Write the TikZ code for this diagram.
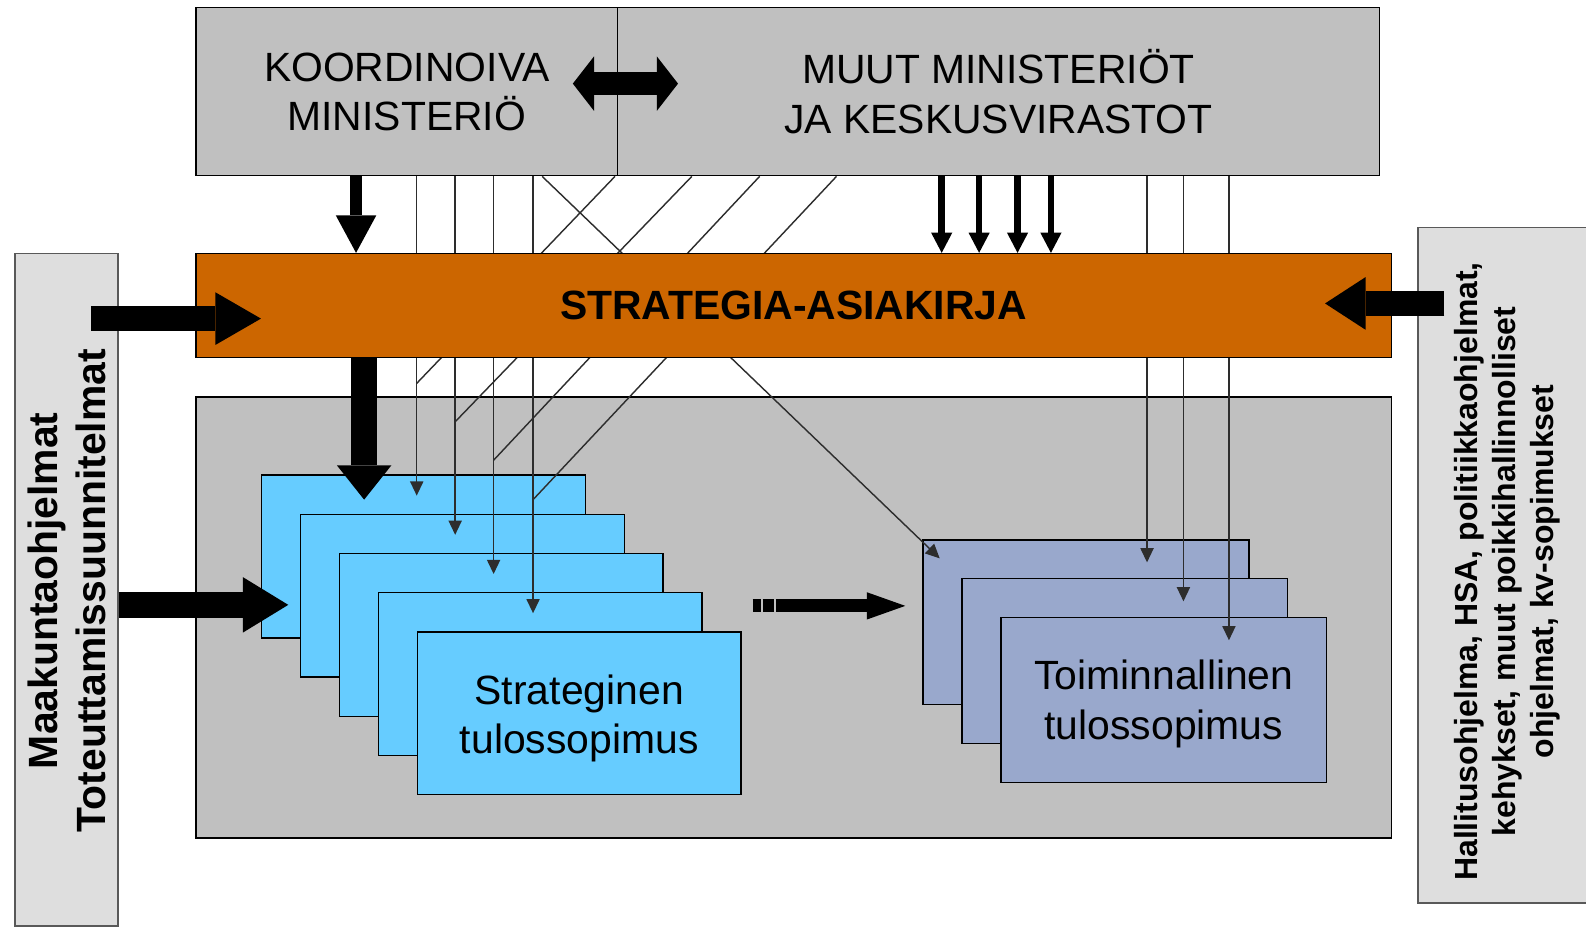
\documentclass[tikz,border=0pt]{standalone}
\usepackage{fontspec}
\setmainfont{Liberation Sans}
\usetikzlibrary{arrows.meta,calc,positioning}
\definecolor{harmaa}{RGB}{192,192,192}
\definecolor{vaalea}{RGB}{222,222,222}
\definecolor{oranssi}{RGB}{204,102,0}
\definecolor{sininen}{RGB}{102,204,255}
\definecolor{sinharmaa}{RGB}{153,168,204}
\definecolor{viiva}{RGB}{45,45,45}

\begin{document}
\begin{tikzpicture}[x=0.02cm,y=-0.02cm,
	teksti/.style={font=\fontsize{23}{27.9}\selectfont,align=center},
	laatikko/.style={draw=black,line width=0.8pt,anchor=north west,inner sep=0pt},
	sivu/.style={laatikko,draw=black!65,fill=vaalea},
	ohut/.style={draw=viiva,line width=0.8pt},
	ohutnuoli/.style={ohut,-{Triangle[width=0.26cm,length=0.28cm]}},
	keskinuoli/.style={line width=0.13cm,-{Triangle[width=0.42cm,length=0.4cm,line width=0pt]}},
	isonuoli/.style n args={3}{line width=#1,-{Triangle[width=#2,length=#3,line width=0pt]}},
	kaksoisnuoli/.style n args={3}{line width=#1,{Triangle[width=#2,length=#3,line width=0pt]}-{Triangle[width=#2,length=#3,line width=0pt]}}]
	\useasboundingbox[fill=white] (0,0) rectangle (1568,918);

	% reunalaatikot
	\node[sivu,minimum width=2.04cm,minimum height=13.3cm] (maak) at (14,250) {};
	\node[sivu,minimum width=3.56cm,minimum height=13.36cm] (hallitus) at (1401,224) {};
	\node[teksti,font=\fontsize{23}{27.3}\selectfont\bfseries,rotate=90] (maakteksti) at (66,584)
		{Maakuntaohjelmat\\Toteuttamissuunnitelmat};
	\node[teksti,font=\fontsize{18}{21.3}\selectfont\bfseries,rotate=90] (hallteksti) at (1490,565)
		{Hallitusohjelma, HSA, politiikkaohjelmat,\\kehykset, muut poikkihallinnolliset\\ohjelmat, kv-sopimukset};

	% ministeriot
	\node[laatikko,fill=harmaa,minimum width=8.34cm,minimum height=3.32cm,teksti] (koord) at (193,7)
		{KOORDINOIVA\\MINISTERIÖ};
	\node[laatikko,fill=harmaa,minimum width=15.06cm,minimum height=3.32cm,teksti] (muut) at (610,7)
		{MUUT MINISTERIÖT\\JA KESKUSVIRASTOT};

	% tulossopimukset
	\node[laatikko,fill=harmaa,minimum width=23.64cm,minimum height=8.72cm] (alue) at (193,392) {};
	\foreach \i in {1,...,5}
		\node[laatikko,fill=sininen,minimum width=6.4cm,minimum height=3.22cm] (sts\i)
			at ({258+38.5*(\i-1)},{469+38.75*(\i-1)}) {};
	\node[teksti] at ($(sts5.center)+(0,5)$) {Strateginen\\tulossopimus};
	\foreach \i in {1,2,3}
		\node[laatikko,fill=sinharmaa,minimum width=6.44cm,minimum height=3.26cm] (tts\i)
			at ({912+38.5*(\i-1)},{533+38.5*(\i-1)}) {};
	\node[teksti] at ($(tts3.center)+(0,4)$) {Toiminnallinen\\tulossopimus};

	% ohuet yhteydet
	\foreach \i/\x in {1/412,2/450,3/488,4/527}
		\draw[ohutnuoli] (\x,0 |- koord.south) -- ($(\x,0 |- sts\i.north)+(0,21)$);
	\foreach \a/\b/\c in {608/412/379,684/450/417,751/488/455,827/527/494}
		\draw[ohut] (\a,0 |- muut.south) -- (\b,\c);
	\draw[ohutnuoli] (536,0 |- koord.south) -- (929,552);
	\foreach \i/\x in {1/1134,2/1170,3/1215}
		\draw[ohutnuoli] (\x,0 |- muut.south) -- ($(\x,0 |- tts\i.north)+(0,23)$);

	% strategia
	\node[laatikko,fill=oranssi,minimum width=23.64cm,minimum height=2.06cm,
		teksti,font=\fontsize{23}{27.9}\selectfont\bfseries] (strat) at (193,250) {STRATEGIA-ASIAKIRJA};

	% paksut nuolet
	\draw[kaksoisnuoli={0.46cm}{1.08cm}{0.42cm}] ($(koord.east)+(-45,-8)$) -- ($(koord.east)+(59,-8)$);
	\draw[isonuoli={0.24cm}{0.8cm}{0.74cm}] (352,0 |- koord.south) -- (352,0 |- strat.north);
	\foreach \x in {931,968,1006,1039}
		\draw[keskinuoli] (\x,0 |- muut.south) -- (\x,0 |- strat.north);
	\coordinate (maakalku) at (90,315);
	\coordinate (maakloppu) at (258,315);
	\draw[isonuoli={0.48cm}{1.04cm}{0.9cm}] (maakalku) -- (maakloppu);
	\coordinate (hallalku) at (1428,300);
	\coordinate (hallloppu) at (1310,300);
	\draw[isonuoli={0.5cm}{1.04cm}{0.8cm}] (hallalku) -- (hallloppu);
	\coordinate (stratloppu) at (360,494);
	\draw[isonuoli={0.5cm}{1.08cm}{0.68cm}] (360,0 |- strat.south) -- (stratloppu);
	\coordinate (stsloppu) at (285,598);
	\draw[isonuoli={0.5cm}{1.1cm}{0.9cm}] (maak.east |- stsloppu) -- (stsloppu);
	\coordinate (valialku) at (744,599);
	\coordinate (valiloppu) at (895,599);
	\draw[isonuoli={0.26cm}{0.54cm}{0.76cm},dash pattern=on 0.16cm off 0.04cm on 0.22cm off 0.04cm on 5cm off 0.1cm]
		(valialku) -- (valiloppu);
\end{tikzpicture}
\end{document}
